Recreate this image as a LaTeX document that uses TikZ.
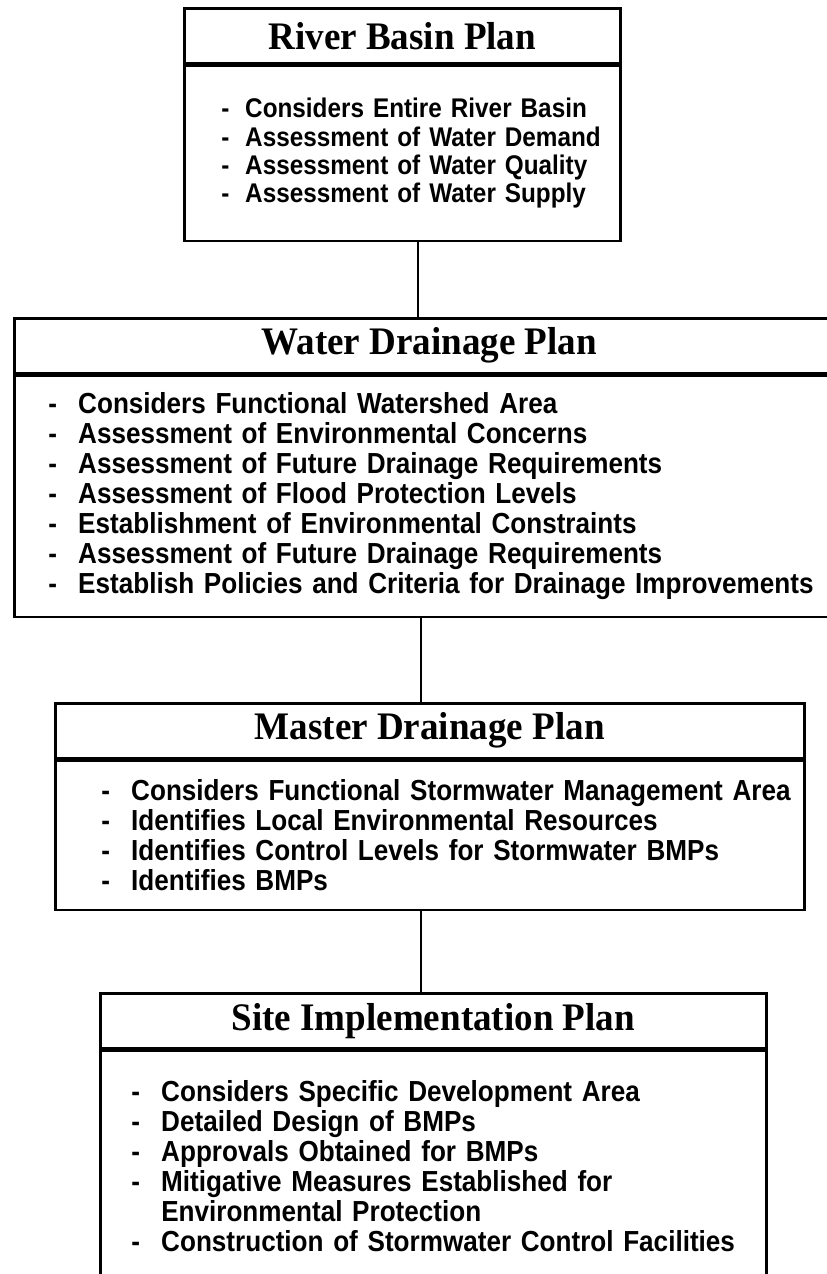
\documentclass[tikz,border=0pt]{standalone}
\usepackage{fontspec}
\setmainfont[FakeStretch=0.95]{Liberation Serif}
\setsansfont[FakeStretch=0.9]{Liberation Sans}

\newlength{\itemshift}
\newlength{\dashgap}
\setlength{\dashgap}{30pt}
\newcommand{\itm}[1]{\hspace*{\itemshift}\makebox[\dashgap][l]{-}#1}

\tikzset{
  head/.style = {draw, line width=2.5pt, anchor=north west, minimum height=55pt,
                 inner sep=0pt, font=\fontsize{39}{42}\selectfont\bfseries},
  body/.style n args = {2}{draw, line width=2.5pt, anchor=north west, align=left,
                 inner xsep=0pt, inner ysep=0pt, text width=#1,
                 font=\sffamily\bfseries\fontsize{29}{30}\selectfont,
                 execute at begin node={\setlength{\itemshift}{#2}}},
  link/.style = {line width=2.5pt}
}

\begin{document}
\begin{tikzpicture}[x=1pt, y=-1pt]
  \useasboundingbox (0,0) rectangle (827,1274);

  % River basin plan
  \node[head, minimum width=436pt] (rbHead) at (183,7) {River Basin Plan};
  \node[body={436pt}{37pt}, minimum height=175pt,
        font=\sffamily\bfseries\fontsize{27}{28.3}\selectfont,
        execute at begin node={\setlength{\dashgap}{24pt}}]
        (rbBody) at (rbHead.south west)
        {\itm{Considers Entire River Basin}\\
         \itm{Assessment of Water Demand}\\
         \itm{Assessment of Water Quality}\\
         \itm{Assessment of Water Supply}};

  % Water drainage plan
  \node[head, minimum width=830pt] (wdHead) at (13,317) {Water Drainage Plan};
  \node[body={830pt}{34pt}, minimum height=241pt] (wdBody) at (wdHead.south west)
        {\itm{Considers Functional Watershed Area}\\
         \itm{Assessment of Environmental Concerns}\\
         \itm{Assessment of Future Drainage Requirements}\\
         \itm{Assessment of Flood Protection Levels}\\
         \itm{Establishment of Environmental Constraints}\\
         \itm{Assessment of Future Drainage Requirements}\\
         \itm{Establish Policies and Criteria for Drainage Improvements}};

  % Master drainage plan
  \node[head, minimum width=749pt] (mdHead) at (54,702) {Master Drainage Plan};
  \node[body={749pt}{46pt}, minimum height=149pt] (mdBody) at (mdHead.south west)
        {\itm{Considers Functional Stormwater Management Area}\\
         \itm{Identifies Local Environmental Resources}\\
         \itm{Identifies Control Levels for Stormwater BMPs}\\
         \itm{Identifies BMPs}};

  % Site implementation plan
  \node[head, minimum width=666pt] (siHead) at (99,992) {Site Implementation Plan};
  \node[body={666pt}{31pt}, minimum height=230pt] (siBody) at (siHead.south west)
        {\itm{Considers Specific Development Area}\\
         \itm{Detailed Design of BMPs}\\
         \itm{Approvals Obtained for BMPs}\\
         \itm{Mitigative Measures Established for}\\
         \hspace*{\itemshift}\hspace*{\dashgap}Environmental Protection\\
         \itm{Construction of Stormwater Control Facilities}};

  % Links
  \draw[link] (rbBody.south -| 418,0) -- (wdHead.north -| 418,0);
  \draw[link] (wdBody.south -| 421,0) -- (mdHead.north -| 421,0);
  \draw[link] (mdBody.south -| 421,0) -- (siHead.north -| 421,0);
\end{tikzpicture}
\end{document}
